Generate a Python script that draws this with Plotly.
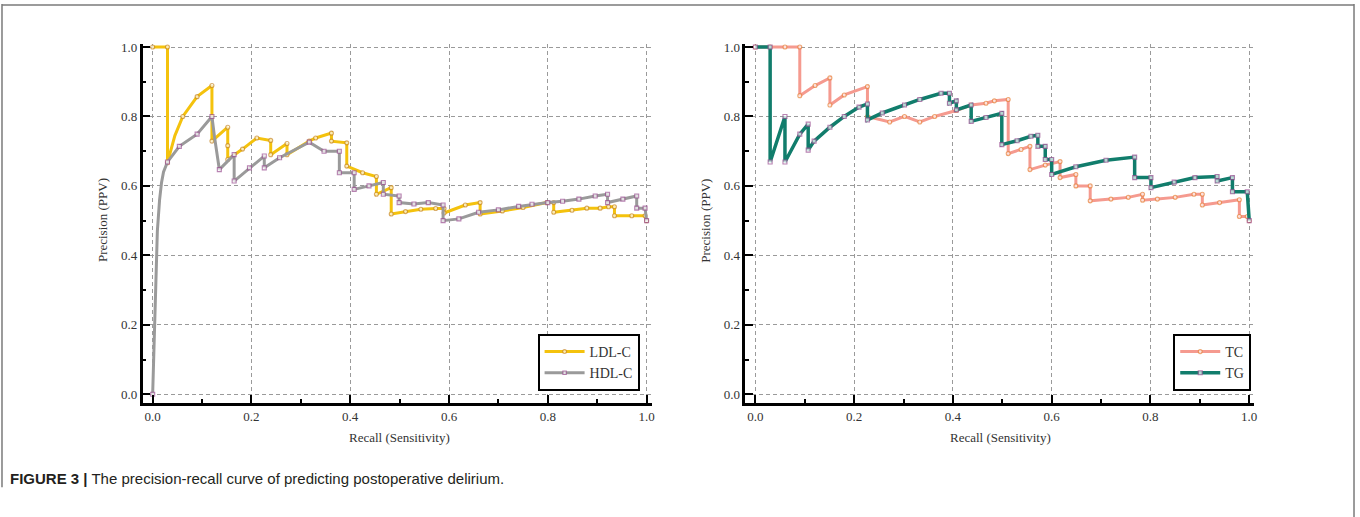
import plotly.graph_objects as go

# ---------------- data ----------------
ldl_x = [0, 0.03, 0.03, 0.045, 0.061, 0.09, 0.12, 0.12, 0.152, 0.152, 0.152, 0.182, 0.211, 0.239, 0.239,
         0.272, 0.272, 0.317, 0.33, 0.362, 0.362, 0.393, 0.393, 0.425, 0.453, 0.453, 0.483, 0.483, 0.512,
         0.543, 0.573, 0.59, 0.59, 0.633, 0.663, 0.663, 0.708, 0.75, 0.798, 0.812, 0.812, 0.849, 0.879,
         0.906, 0.923, 0.935, 0.935, 0.97, 0.997, 1.0]
ldl_y = [1.0, 1.0, 0.667, 0.745, 0.8, 0.857, 0.889, 0.729, 0.769, 0.716, 0.676, 0.706, 0.738, 0.731, 0.69,
         0.722, 0.69, 0.729, 0.738, 0.752, 0.729, 0.724, 0.657, 0.638, 0.627, 0.576, 0.595, 0.519, 0.526,
         0.533, 0.535, 0.535, 0.522, 0.545, 0.552, 0.519, 0.528, 0.538, 0.552, 0.552, 0.524, 0.53, 0.536,
         0.536, 0.54, 0.54, 0.514, 0.514, 0.514, 0.5]

hdl_x = [0, 0.004, 0.006, 0.0095, 0.014, 0.018, 0.022, 0.03, 0.054, 0.09, 0.12, 0.125, 0.135, 0.165, 0.165,
         0.196, 0.226, 0.226, 0.257, 0.317, 0.347, 0.378, 0.378, 0.408, 0.408, 0.438, 0.467, 0.467, 0.499,
         0.499, 0.529, 0.558, 0.588, 0.588, 0.62, 0.66, 0.7, 0.741, 0.768, 0.8, 0.83, 0.863, 0.896, 0.921,
         0.921, 0.952, 0.98, 0.98, 0.997, 1.0]
hdl_y = [0.0, 0.18, 0.28, 0.47, 0.56, 0.61, 0.64, 0.669, 0.714, 0.749, 0.8, 0.743, 0.647, 0.69, 0.614,
         0.652, 0.686, 0.652, 0.681, 0.726, 0.7, 0.7, 0.638, 0.638, 0.59, 0.6, 0.61, 0.576, 0.571,
         0.552, 0.548, 0.552, 0.545, 0.5, 0.505, 0.524, 0.531, 0.541, 0.547, 0.552, 0.556, 0.562, 0.571, 0.576,
         0.552, 0.562, 0.571, 0.536, 0.536, 0.5]

tc_x = [0, 0.03, 0.06, 0.09, 0.09, 0.121, 0.151, 0.151, 0.18, 0.227, 0.227, 0.272, 0.302, 0.333, 0.363,
        0.407, 0.437, 0.467, 0.484, 0.512, 0.512, 0.538, 0.556, 0.556, 0.587, 0.617, 0.617, 0.649, 0.649,
        0.678, 0.678, 0.72, 0.755, 0.784, 0.784, 0.814, 0.85, 0.888, 0.905, 0.905, 0.94, 0.98, 0.98,
        0.996, 1.0]
tc_y = [1.0, 1.0, 1.0, 1.0, 0.86, 0.889, 0.911, 0.833, 0.862, 0.886, 0.8, 0.784, 0.8, 0.784, 0.8,
        0.817, 0.833, 0.838, 0.845, 0.849, 0.693, 0.705, 0.714, 0.647, 0.66, 0.67, 0.624, 0.633, 0.6,
        0.6, 0.557, 0.562, 0.567, 0.576, 0.559, 0.562, 0.567, 0.576, 0.576, 0.545, 0.552, 0.56, 0.512,
        0.512, 0.5]

tg_x = [0, 0.03, 0.03, 0.06, 0.06, 0.09, 0.107, 0.107, 0.119, 0.151, 0.18, 0.21, 0.227, 0.227, 0.257,
        0.302, 0.333, 0.376, 0.393, 0.393, 0.407, 0.407, 0.437, 0.437, 0.467, 0.499, 0.499, 0.53, 0.558,
        0.572, 0.572, 0.587, 0.587, 0.6, 0.6, 0.649, 0.71, 0.768, 0.768, 0.801, 0.801, 0.848, 0.89,
        0.935, 0.935, 0.966, 0.966, 0.996, 1.0]
tg_y = [1.0, 1.0, 0.669, 0.8, 0.669, 0.749, 0.778, 0.703, 0.729, 0.769, 0.8, 0.827, 0.836, 0.79, 0.81,
        0.833, 0.849, 0.867, 0.867, 0.838, 0.845, 0.819, 0.833, 0.786, 0.797, 0.809, 0.719, 0.73, 0.743,
        0.746, 0.714, 0.714, 0.676, 0.676, 0.633, 0.655, 0.674, 0.683, 0.624, 0.624, 0.595, 0.611, 0.624,
        0.627, 0.614, 0.624, 0.583, 0.583, 0.5]

tick_vals = [0.0, 0.2, 0.4, 0.6, 0.8, 1.0]
tick_text = ["0.0", "0.2", "0.4", "0.6", "0.8", "1.0"]

x_title = "Recall (Sensitivity)"
y_title = "Precision (PPV)"
caption = "<b>FIGURE 3 |</b> The precision-recall curve of predicting postoperative delirium."

# ---------------- figure ----------------
W, H = 1360, 517
SERIF = "Liberation Serif, Times New Roman, serif"
MSIZE = 4

fig = go.Figure()

def add(x, y, name, color, mcolor, symbol, xa, ya, leg, lw=3, curve_only=()):
    # points that only shape a smooth curve segment carry no marker
    sizes = [0 if i in curve_only else MSIZE for i in range(len(x))]
    fig.add_trace(go.Scatter(
        x=x, y=y, name=name, mode="lines+markers",
        line=dict(color=color, width=lw),
        marker=dict(symbol=symbol, size=sizes, color="white", line=dict(color=mcolor, width=1.1)),
        xaxis=xa, yaxis=ya, legend=leg, showlegend=True))

add(ldl_x, ldl_y, "LDL-C", "#F4C20D", "#C98A2E", "circle", "x", "y", "legend", curve_only=(3,))
add(hdl_x, hdl_y, "HDL-C", "#9A9A9A", "#9B4F92", "square", "x", "y", "legend",
    curve_only=(1, 2, 3, 4, 5, 6, 11))
add(tc_x, tc_y, "TC", "#F59A8F", "#E8873F", "circle", "x2", "y2", "legend2")
add(tg_x, tg_y, "TG", "#117D6C", "#9B4F92", "square", "x2", "y2", "legend2", lw=3.5)

def px_x(p):
    return p / W

def px_y(p):
    return 1 - p / H

axis_common = dict(
    tickmode="array", tickvals=tick_vals, ticktext=tick_text,
    showgrid=True, gridcolor="#9a9a9a", gridwidth=1, griddash="4px,3px",
    showline=True, linecolor="black", linewidth=2.5, mirror=False,
    ticks="inside", ticklen=8, tickwidth=2, tickcolor="black",
    minor=dict(ticks="inside", ticklen=4, tickwidth=1.5, tickcolor="black",
               tickvals=[0.1, 0.3, 0.5, 0.7, 0.9], showgrid=False),
    zeroline=False, fixedrange=True,
    tickfont=dict(family=SERIF, size=13, color="#333333"),
)

xr = [-0.0202, 1.0101]
yr = [-0.024, 1.009]
ydom = [px_y(401.7), px_y(40.2)]

legend_style = dict(xanchor="right", yanchor="bottom",
                    bordercolor="black", borderwidth=2, bgcolor="white",
                    font=dict(family=SERIF, size=14, color="#333333"),
                    tracegroupgap=0, itemwidth=40)

fig.update_layout(
    width=W, height=H,
    margin=dict(l=0, r=0, t=0, b=0),
    paper_bgcolor="white", plot_bgcolor="white",
    xaxis=dict(domain=[px_x(143), px_x(653)], range=xr, anchor="y", **axis_common),
    yaxis=dict(domain=ydom, range=yr, anchor="x", **axis_common),
    xaxis2=dict(domain=[px_x(747), px_x(1257)], range=xr, anchor="y2", **axis_common),
    yaxis2=dict(domain=ydom, range=yr, anchor="x2", **axis_common),
    legend=dict(x=px_x(641), y=px_y(390), **legend_style),
    legend2=dict(x=px_x(1254), y=px_y(390), **legend_style),
    showlegend=True,
)

ann = []
for cx in (400, 1003):
    ann.append(dict(text=x_title, x=px_x(cx), y=px_y(437), xref="paper", yref="paper",
                    showarrow=False, xanchor="center", yanchor="middle",
                    font=dict(family=SERIF, size=13, color="#333333")))
for cx in (103, 707):
    ann.append(dict(text=y_title, x=px_x(cx), y=px_y(218), xref="paper", yref="paper",
                    showarrow=False, xanchor="center", yanchor="middle", textangle=-90,
                    font=dict(family=SERIF, size=13, color="#333333")))
ann.append(dict(text=caption, x=px_x(8), y=px_y(478), xref="paper", yref="paper",
                showarrow=False, xanchor="left", yanchor="middle",
                font=dict(family="Liberation Sans, Arial, sans-serif", size=15, color="#231f20")))
fig.update_layout(annotations=ann)

border = "#7a7a7a"
fig.update_layout(shapes=[
    dict(type="line", xref="paper", yref="paper", x0=px_x(2), x1=px_x(1357), y0=px_y(1), y1=px_y(1),
         line=dict(color=border, width=1.5)),
    dict(type="line", xref="paper", yref="paper", x0=px_x(2), x1=px_x(2), y0=px_y(0), y1=px_y(487),
         line=dict(color=border, width=1.5)),
    dict(type="line", xref="paper", yref="paper", x0=px_x(1357), x1=px_x(1357), y0=px_y(0), y1=px_y(517),
         line=dict(color=border, width=1.5)),
])

fig.write_html("out.html", config={"displayModeBar": False},
               post_script="document.body.style.margin='0';document.body.style.overflow='hidden';")
